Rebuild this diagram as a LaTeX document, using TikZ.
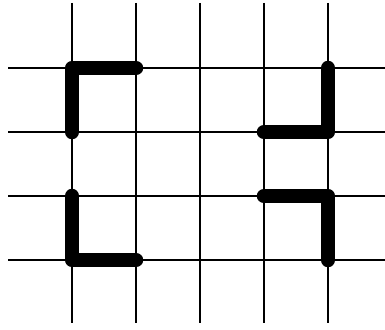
\documentclass[tikz,border=0pt]{standalone}
\begin{document}
\begin{tikzpicture}[x=1pt,y=-1pt,
  gridline/.style={line width=2.2pt,black},
  stroke/.style={line width=14.5pt,black,line cap=round,line join=round}]
\useasboundingbox (0,0) rectangle (385,329);
\foreach \x in {72,136,200,264,328} \draw[gridline] (\x,3) -- (\x,323);
\foreach \y in {68,132,196,260} \draw[gridline] (8,\y) -- (385,\y);
\coordinate (a1) at (72,132); \coordinate (a2) at (72,68); \coordinate (a3) at (136,68);
\coordinate (b1) at (264,132); \coordinate (b2) at (328,132); \coordinate (b3) at (328,68);
\coordinate (c1) at (72,196); \coordinate (c2) at (72,260); \coordinate (c3) at (136,260);
\coordinate (d1) at (264,196); \coordinate (d2) at (328,196); \coordinate (d3) at (328,260);
\draw[stroke] (a1) -- (a2) -- (a3);
\draw[stroke] (b1) -- (b2) -- (b3);
\draw[stroke] (c1) -- (c2) -- (c3);
\draw[stroke] (d1) -- (d2) -- (d3);
\end{tikzpicture}
\end{document}
